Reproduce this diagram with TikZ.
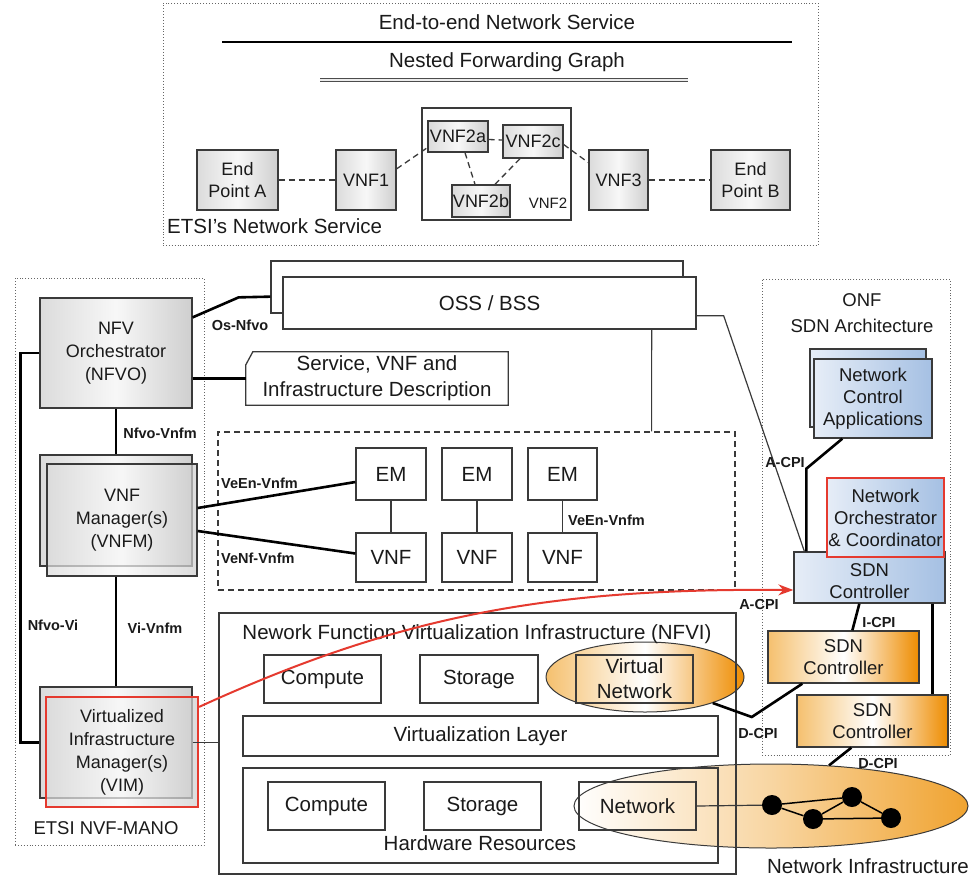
\documentclass[tikz,border=0pt]{standalone}
\usepackage{fontspec}
\setmainfont{Liberation Sans}
\usetikzlibrary{calc,arrows.meta,shapes.geometric}
\definecolor{ink}{HTML}{1A1A1A}
\definecolor{edge}{HTML}{3A3A3A}
\definecolor{alert}{HTML}{E53A2F}
\definecolor{orDeep}{HTML}{EE8C00}
\definecolor{orSoft}{HTML}{F5C06E}
\definecolor{orBig}{HTML}{F0A330}
\definecolor{blSoft}{HTML}{E6EDF7}
\definecolor{blDeep}{HTML}{A5C0E3}
\begin{document}
\begin{tikzpicture}[x=1pt,y=-1pt,
  rect/.style n args={4}{at={({(#1+#3)/2},{(#2+#4)/2})},
      minimum width={(#3-#1)*1pt},minimum height={(#4-#2)*1pt}},
  tx/.style={font=\fontsize{20.5}{23}\selectfont,text=ink,align=center,inner sep=0pt},
  ftop/.style={font=\fontsize{18}{22}\selectfont},
  fmano/.style={font=\fontsize{18}{23}\selectfont},
  fsdn/.style={font=\fontsize{18.5}{22}\selectfont},
  lb/.style={font=\fontsize{14.5}{16}\selectfont\bfseries,text=ink,inner sep=0pt},
  frm/.style={draw=gray!80!black,dotted,line width=0.9pt,inner sep=0pt},
  plain/.style={draw=edge,line width=1.3pt,inner sep=0pt,tx},
  wbox/.style={plain,fill=white},
  gbox/.style={plain,left color=gray!28,right color=gray!38,middle color=gray!6},
  bbox/.style={plain,left color=blSoft,right color=blDeep},
  obox/.style={plain,left color=orSoft,right color=orDeep,middle color=white},
  tconn/.style={draw=black,line width=2.6pt},
  sconn/.style={draw=edge,line width=1.2pt},
  dconn/.style={draw=edge,line width=1.3pt,dash pattern=on 6pt off 4pt},
  netdot/.style={circle,fill=black,minimum size=20pt,inner sep=0pt},
]
\useasboundingbox (0,0) rectangle (979,879);

% ---------- ETSI network service ----------
\node[frm,rect={163}{3}{818}{245}] (nsf) {};
\node[tx] (ete) at (507,22) {End-to-end Network Service};
\draw[line width=2.5pt] (222,42) -- (792,42);
\node[tx] (nfg) at (507,62) {Nested Forwarding Graph};
\draw[draw=gray!60!black,double=gray!15,double distance=1.5pt,line width=1pt] (320,80) -- (688,80);

\node[gbox,ftop,rect={197}{150}{278}{210}] (epa) {End\\Point A};
\node[gbox,ftop,rect={336}{150}{396}{210}] (vnf1) {VNF1};
\node[wbox,rect={422}{108}{571}{220}] (vnf2) {};
\node[gbox,ftop,rect={428}{121}{488}{152}] (v2a) {VNF2a};
\node[gbox,ftop,rect={503}{125}{563}{158}] (v2c) {VNF2c};
\node[gbox,ftop,rect={452}{185}{510}{217}] (v2b) {VNF2b};
\node[tx,font=\fontsize{15}{17}\selectfont] (v2l) at (548,203) {VNF2};
\node[gbox,ftop,rect={589}{150}{648}{210}] (vnf3) {VNF3};
\node[gbox,ftop,rect={711}{150}{790}{210}] (epb) {End\\Point B};
\node[tx,anchor=west] (etsins) at (167,226) {ETSI's Network Service};

\draw[dconn] (epa) -- (vnf1);
\draw[dconn] (vnf1.20) -- (v2a.200);
\draw[dconn] ($(v2a.east)+(0,3)$) -- ($(v2c.west)+(0,-1.5)$);
\draw[dconn] ($(v2a.south)+(7,0)$) -- ($(v2b.north)+(-6,0)$);
\draw[dconn] ($(v2c.south)+(-13,0)$) -- ($(v2b.north)+(14,0)$);
\draw[dconn] ($(v2c.east)+(0,3)$) -- (vnf3.150);
\draw[dconn] (vnf3) -- (epb);

% ---------- frames ----------
\node[frm,rect={15}{278}{204}{845}] (mano) {};
\node[frm,rect={762}{279}{950}{755}] (onf) {};
\node[tx,font=\fontsize{18.5}{26}\selectfont] (onfl) at (862,313) {ONF\\SDN Architecture};
\node[tx,font=\fontsize{18.5}{22}\selectfont] (manol) at (106,828) {ETSI NVF-MANO};

% ---------- infrastructure ellipses ----------
\node[ellipse,draw=edge,line width=1pt,minimum width=394pt,minimum height=84pt,inner sep=0pt,
      left color=white,right color=orBig,middle color=orBig!45!white] (infra) at (771,806) {};
\node[ellipse,draw=edge,line width=1pt,minimum width=198pt,minimum height=70pt,inner sep=0pt,
      left color=orSoft,right color=orDeep,middle color=white] (vnell) at (645,677) {};

% ---------- NFVI ----------
\node[plain,rect={219}{613}{736}{874}] (nfvi) {};
\node[tx] (nfvit) at (477,634) {Nework Function Virtualization Infrastructure (NFVI)};
\node[wbox,rect={264}{655}{381}{703}] (cmp1) {Compute};
\node[wbox,rect={420}{655}{538}{703}] (sto1) {Storage};
\node[plain,font=\fontsize{20.5}{25}\selectfont,rect={576}{655}{693}{703}] (vnet) {Virtual\\Network};
\node[wbox,rect={243}{716}{718}{756}] (vlay) {Virtualization Layer};
\node[plain,rect={243}{768}{718}{863}] (hw) {};
\node[tx] (hwl) at (480,843) {Hardware Resources};
\node[wbox,rect={268}{782}{385}{830}] (cmp2) {Compute};
\node[wbox,rect={424}{782}{541}{830}] (sto2) {Storage};
\node[plain,rect={579}{782}{696}{830}] (net) {Network};

% physical network graph
\node[netdot] (n1) at (772,805) {};
\node[netdot] (n2) at (813,819) {};
\node[netdot] (n3) at (852,797) {};
\node[netdot] (n4) at (891,818) {};
\draw[line width=1.5pt] (n1) -- (n3) (n1) -- (n2) (n2) -- (n3) (n2) -- (n4) (n3) -- (n4);
\draw[sconn] (net.east) -- (n1);
\node[tx] (infl) at (868,866) {Network Infrastructure};

% ---------- MANO ----------
\node[gbox,fmano,rect={40}{298}{192}{408}] (nfvo) {NFV\\Orchestrator\\(NFVO)};
\node[gbox,rect={40}{455}{192}{566}] (vnfmb) {};
\node[gbox,fmano,fill opacity=0.72,text opacity=1,rect={47}{464}{197}{576}] (vnfm) {VNF\\Manager(s)\\(VNFM)};
\node[gbox,rect={40}{687}{192}{798}] (vimb) {};
\node[gbox,fmano,draw=alert,line width=2.2pt,fill opacity=0.72,text opacity=1,rect={46}{697}{198}{807}] (vim) {Virtualized\\Infrastructure\\Manager(s)\\(VIM)};

\draw[tconn] (nfvo) -- (vnfmb);
\draw[tconn] (vimb.north |- vnfm.south) -- (vimb.north);
\draw[tconn] (nfvo.west) -- ++(-19,0) |- (vimb.west);
\node[lb] (lnv) at (160,433) {Nfvo-Vnfm};
\node[lb] (lvv) at (155,628) {Vi-Vnfm};
\node[lb] (lnvi) at (53,625) {Nfvo-Vi};

% ---------- OSS / BSS and descriptions ----------
\node[wbox,rect={271}{261}{683}{313}] (ossb) {};
\node[wbox,rect={283}{277}{696}{329}] (oss) {OSS / BSS};
\draw[tconn] ($(nfvo.north east)+(0,20)$) -- ++(46,-20) -- ($(ossb.south west)+(0,-17)$);
\node[lb] (los) at (240,325) {Os-Nfvo};

\node[tx,font=\fontsize{20.5}{26}\selectfont,rect={246}{352}{508}{405}] (desc) {Service, VNF and\\Infrastructure Description};
\draw[draw=edge,line width=1.3pt] ($(desc.north west)+(0,13)$) -- ($(desc.north west)+(7,0)$) -- (desc.north east) -- (desc.south east) -- (desc.south west) -- cycle;
\draw[tconn] (nfvo.east |- desc.west) -- (desc.west);

% ---------- VNF domain ----------
\node[draw=edge,line width=1.2pt,dash pattern=on 6pt off 4pt,inner sep=0pt,rect={218}{432}{735}{590}] (vnfbox) {};
\node[wbox,rect={356}{448}{426}{500}] (em1) {EM};
\node[wbox,rect={442}{448}{512}{500}] (em2) {EM};
\node[wbox,rect={528}{448}{597}{500}] (em3) {EM};
\node[wbox,rect={356}{533}{426}{582}] (vf1) {VNF};
\node[wbox,rect={442}{533}{512}{582}] (vf2) {VNF};
\node[wbox,rect={528}{533}{597}{582}] (vf3) {VNF};
\draw[sconn] (em1) -- (vf1);
\draw[sconn] (em2) -- (vf2);
\draw[sconn] (em3) -- (vf3);
\node[lb,anchor=west] (lveen2) at (568,520) {VeEn-Vnfm};
\draw[sconn] ($(oss.south east)+(-45,0)$) -- ($(vnfbox.north east)+(-84,0)$);

\draw[tconn] ($(vnfm.east)+(0,-12)$) -- ($(em1.west)+(0,8)$);
\draw[tconn] ($(vnfm.east)+(0,11)$) -- ($(vf1.west)+(0,-4)$);
\node[lb,anchor=west] (lveen) at (221,483) {VeEn-Vnfm};
\node[lb,anchor=west] (lvenf) at (221,558) {VeNf-Vnfm};

\draw[sconn] (vimb.east) -- (nfvi.west |- vimb.east);

% ---------- ONF SDN ----------
\node[bbox,rect={810}{349}{926}{427}] (ncab) {};
\node[bbox,fsdn,rect={814}{359}{932}{438}] (nca) {Network\\Control\\Applications};
\node[bbox,fsdn,rect={794}{552}{945}{603}] (sdn1) {\\[-2pt]SDN\\Controller};
\node[bbox,fsdn,draw=alert,line width=2.2pt,rect={827}{478}{944}{557}] (noc) {Network\\Orchestrator\\\& Coordinator};
\node[obox,fsdn,rect={768}{631}{919}{683}] (sdn2) {SDN\\Controller};
\node[obox,fsdn,rect={797}{695}{948}{747}] (sdn3) {SDN\\Controller};

\draw[sconn] ($(oss.south east)+(0,-14)$) -- ++(27,0) -- ($(sdn1.north west)+(11,0)$);
\draw[tconn] ($(nca.south west)+(29,0)$) -- ++(-36,30) -- ($(sdn1.north west)+(13,0)$);
\node[lb] (lacpi1) at (785,462) {A-CPI};
\node[lb] (lacpi2) at (759,604) {A-CPI};
\draw[tconn] ($(sdn1.south west)+(66,0)$) -- ($(sdn2.north west)+(85,0)$);
\node[lb] (licpi) at (879,622) {I-CPI};
\draw[tconn] ($(sdn1.south east)+(-13,0)$) -- ($(sdn3.north east)+(-16,0)$);
\draw[tconn] (vnell.-21) -- ++(39,14) -- ($(sdn2.south west)+(35,0)$);
\node[lb] (ldcpi1) at (758,733) {D-CPI};
\draw[tconn] ($(sdn3.south west)+(55,0)$) -- (infra.35);
\node[lb] (ldcpi2) at (878,763) {D-CPI};

% ---------- VIM to SDN controller ----------
\draw[alert,line width=2pt,-{Stealth[length=15pt,width=11pt]}] ($(vim.north east)+(0,11)$) .. controls (400,615) and (550,588) .. ($(sdn1.west)+(0,12.5)$);
\end{tikzpicture}
\end{document}
